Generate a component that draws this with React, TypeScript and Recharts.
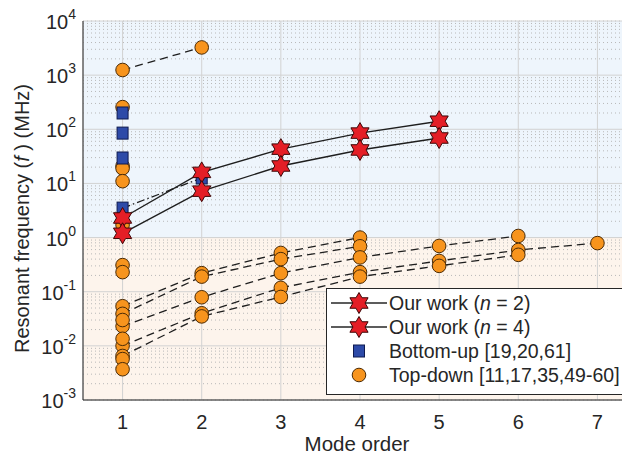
import {
  CartesianGrid,
  ComposedChart,
  Line,
  Scatter,
  XAxis,
  YAxis,
} from "recharts"

const FONT = "'Liberation Sans', Arial, Helvetica, sans-serif"
const INK = "#262626"

// mode order on x, resonant frequency (MHz) on a log y axis
const modes = [1, 2, 3, 4, 5, 6, 7]
const decades = [1e-3, 1e-2, 1e-1, 1, 1e1, 1e2, 1e3, 1e4]

const ourWorkN2 = [2.3, 16, 43, 85, 141]
const ourWorkN4 = [1.2, 7.2, 21, 41.5, 69]

// bottom-up: lone first modes + one paper with two modes
const bottomUpMode1 = [200, 85, 29.5]
const bottomUpChain = [3.5, 12.6]

// top-down: papers reporting several modes (dashed), the rest only mode 1
const topDownChains = [
  [1245, 3250],
  [0.054, 0.22, 0.52, 1.0],
  [0.039, 0.19, 0.4, 0.69],
  [0.023, 0.079, 0.22, 0.43, 0.7, 1.07],
  [0.01, 0.04, 0.118, 0.23, 0.37, 0.59, 0.79],
  [0.0065, 0.035, 0.08, 0.19, 0.3, 0.48],
]
const topDownMode1 = [257, 21, 19, 11, 1.7, 0.31, 0.23, 0.03, 0.0135, 0.0057, 0.0037]

const X_DOMAIN: [number, number] = [0.5, 7.5]
const Y_DOMAIN: [number, number] = [1e-3, 1e4]

const minorTicks = decades
  .slice(0, -1)
  .flatMap((d) => [2, 3, 4, 5, 6, 7, 8, 9].map((k) => k * d))

type Pt = { mode: number; f: number }

const series = (vals: number[]): Pt[] => vals.map((f, i) => ({ mode: i + 1, f }))
const atMode1 = (vals: number[]): Pt[] => vals.map((f) => ({ mode: 1, f }))

const topDownPts = [...topDownChains.flatMap(series), ...atMode1(topDownMode1)]
const bottomUpPts = [...series(bottomUpChain), ...atMode1(bottomUpMode1)]

const BLUE_BG = "#eef5fc"
const ORANGE_BG = "#fdf4ec"

function starPath(cx: number, cy: number, R: number) {
  const r = R * 0.577
  let d = ""
  for (let i = 0; i < 12; i++) {
    const a = -Math.PI / 2 + (i * Math.PI) / 6
    const rad = i % 2 === 0 ? R : r
    d += `${i === 0 ? "M" : "L"}${cx + rad * Math.cos(a)},${cy + rad * Math.sin(a)}`
  }
  return d + "Z"
}

const Star = ({ cx, cy }: any) => (
  <path d={starPath(cx, cy, 10.5)} fill="#e41e26" stroke="#3d0606" strokeWidth={1} />
)
const Dot = ({ cx, cy }: any) => (
  <circle cx={cx} cy={cy} r={6.8} fill="#f7941d" stroke="#4a2a05" strokeWidth={1} />
)
const Square = ({ cx, cy }: any) => (
  <rect x={cx - 5.5} y={cy - 6} width={11} height={12} fill="#2d4aa8" stroke="#0e1a4f" strokeWidth={1} />
)

const NoTick = () => <g />

function XTick({ x, y, payload }: any) {
  return (
    <text x={x} y={y + 29} textAnchor="middle" fontSize={20} fill={INK} fontFamily={FONT}>
      {payload.value}
    </text>
  )
}

function YTick({ x, y, payload }: any) {
  const exp = Math.round(Math.log10(payload.value))
  return (
    <text x={x - 7} y={y + 8} textAnchor="end" fontSize={20} fill={INK} fontFamily={FONT}>
      10
      <tspan dy={-10} fontSize={14}>
        {exp}
      </tspan>
    </text>
  )
}

function XLabel({ viewBox }: any) {
  return (
    <text
      x={viewBox.x + viewBox.width / 2 - 3}
      y={viewBox.y + 51}
      textAnchor="middle"
      fontSize={20.5}
      fill={INK}
      fontFamily={FONT}
    >
      Mode order
    </text>
  )
}

function YLabel({ viewBox }: any) {
  const cx = 22
  const cy = viewBox.y + viewBox.height / 2 + 8
  return (
    <text
      x={cx}
      y={cy}
      transform={`rotate(-90, ${cx}, ${cy})`}
      textAnchor="middle"
      dominantBaseline="central"
      fontSize={20}
      fill={INK}
      fontFamily={FONT}
    >
      Resonant frequency (<tspan fontStyle="italic">f</tspan> ) (MHz)
    </text>
  )
}

const legendItems = [
  { kind: "star", label: <>Our work (<i>n</i> = 2)</> },
  { kind: "star", label: <>Our work (<i>n</i> = 4)</> },
  { kind: "square", label: <>Bottom-up [19,20,61]</> },
  { kind: "circle", label: <>Top-down [11,17,35,49-60]</> },
]

function LegendBox() {
  return (
    <div
      style={{
        position: "absolute",
        left: 326,
        top: 288,
        width: 330,
        height: 107,
        boxSizing: "border-box",
        border: `1.3px solid ${INK}`,
        background: "#fff",
        paddingTop: 2,
        fontFamily: FONT,
        fontSize: 19.5,
        color: INK,
      }}
    >
      {legendItems.map((it, i) => (
        <div key={i} style={{ display: "flex", alignItems: "center", height: 24 }}>
          <svg width={62} height={24} style={{ flex: "none" }}>
            {it.kind === "star" && (
              <>
                <line x1={4} x2={60} y1={12} y2={12} stroke={INK} strokeWidth={1.3} />
                <Star cx={32} cy={12} />
              </>
            )}
            {it.kind === "square" && <Square cx={32} cy={12} />}
            {it.kind === "circle" && <Dot cx={32} cy={12} />}
          </svg>
          <span style={{ whiteSpace: "nowrap", lineHeight: "24px" }}>{it.label}</span>
        </div>
      ))}
    </div>
  )
}

export default function App() {
  return (
    <div
      style={{
        position: "relative",
        margin: -8,
        width: 630,
        height: 460,
        overflow: "hidden",
        background: "#fff",
      }}
    >
      <ComposedChart width={660} height={460} margin={{ top: 21, right: 23, bottom: 0, left: 13 }}>
        {/* background bands only */}
        <CartesianGrid
          xAxisId="main"
          yAxisId="main"
          vertical={false}
          stroke="none"
          horizontalFill={[BLUE_BG, BLUE_BG, BLUE_BG, BLUE_BG, ORANGE_BG, ORANGE_BG, ORANGE_BG, ORANGE_BG]}
          fillOpacity={1}
        />
        <CartesianGrid
          xAxisId="main"
          yAxisId="minor"
          vertical={false}
          stroke="#b8b8b8"
          strokeDasharray="1 3"
          strokeWidth={1}
        />
        <CartesianGrid xAxisId="main" yAxisId="main" stroke="#d2d2d2" strokeWidth={1} />

        <XAxis
          xAxisId="main"
          type="number"
          dataKey="mode"
          domain={X_DOMAIN}
          ticks={modes}
          interval={0}
          allowDataOverflow
          height={60}
          tickLine={false}
          tickSize={0}
          tickMargin={0}
          axisLine={{ stroke: INK }}
          tick={<XTick />}
          label={<XLabel />}
        />
        <XAxis
          xAxisId="tickBottom"
          orientation="bottom"
          mirror
          height={0}
          type="number"
          domain={X_DOMAIN}
          ticks={modes}
          interval={0}
          allowDataOverflow
          tickSize={6}
          tickLine={{ stroke: INK }}
          axisLine={false}
          tick={<NoTick />}
        />
        <XAxis
          xAxisId="tickTop"
          orientation="top"
          mirror
          height={0}
          type="number"
          domain={X_DOMAIN}
          ticks={modes}
          interval={0}
          allowDataOverflow
          tickSize={6}
          tickLine={{ stroke: INK }}
          axisLine={{ stroke: INK }}
          tick={<NoTick />}
        />

        <YAxis
          yAxisId="main"
          type="number"
          dataKey="f"
          scale="log"
          domain={Y_DOMAIN}
          ticks={decades}
          interval={0}
          allowDataOverflow
          width={70}
          tickLine={false}
          tickSize={0}
          tickMargin={0}
          axisLine={{ stroke: INK }}
          tick={<YTick />}
          label={<YLabel />}
        />
        <YAxis
          yAxisId="minor"
          mirror
          width={0}
          type="number"
          scale="log"
          domain={Y_DOMAIN}
          ticks={minorTicks}
          interval={0}
          allowDataOverflow
          tickSize={3.5}
          tickLine={{ stroke: INK }}
          axisLine={false}
          tick={<NoTick />}
        />
        <YAxis
          yAxisId="major"
          mirror
          width={0}
          type="number"
          scale="log"
          domain={Y_DOMAIN}
          ticks={decades}
          interval={0}
          allowDataOverflow
          tickSize={6}
          tickLine={{ stroke: INK }}
          axisLine={false}
          tick={<NoTick />}
        />

        {topDownChains.map((vals, i) => (
          <Line
            key={`td${i}`}
            xAxisId="main"
            yAxisId="main"
            data={series(vals)}
            dataKey="f"
            stroke="#1e1e1e"
            strokeWidth={1.3}
            strokeDasharray="8 5"
            dot={false}
            activeDot={false}
            isAnimationActive={false}
          />
        ))}
        <Line
          xAxisId="main"
          yAxisId="main"
          data={series(bottomUpChain)}
          dataKey="f"
          stroke="#1e1e1e"
          strokeWidth={1.3}
          strokeDasharray="8 3 1.5 3"
          dot={false}
          activeDot={false}
          isAnimationActive={false}
        />
        <Line
          xAxisId="main"
          yAxisId="main"
          data={series(ourWorkN2)}
          dataKey="f"
          stroke="#1e1e1e"
          strokeWidth={1.4}
          dot={false}
          activeDot={false}
          isAnimationActive={false}
        />
        <Line
          xAxisId="main"
          yAxisId="main"
          data={series(ourWorkN4)}
          dataKey="f"
          stroke="#1e1e1e"
          strokeWidth={1.4}
          dot={false}
          activeDot={false}
          isAnimationActive={false}
        />

        <Scatter
          xAxisId="main"
          yAxisId="main"
          data={topDownPts}
          dataKey="f"
          shape={<Dot />}
          isAnimationActive={false}
        />
        <Scatter
          xAxisId="main"
          yAxisId="main"
          data={bottomUpPts}
          dataKey="f"
          shape={<Square />}
          isAnimationActive={false}
        />
        <Scatter
          xAxisId="main"
          yAxisId="main"
          data={series(ourWorkN2)}
          dataKey="f"
          shape={<Star />}
          isAnimationActive={false}
        />
        <Scatter
          xAxisId="main"
          yAxisId="main"
          data={series(ourWorkN4)}
          dataKey="f"
          shape={<Star />}
          isAnimationActive={false}
        />
      </ComposedChart>
      <LegendBox />
    </div>
  )
}
